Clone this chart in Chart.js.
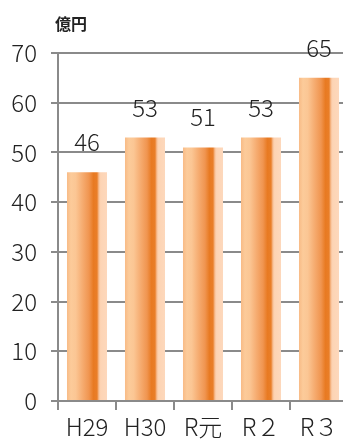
<!DOCTYPE html>
<html>
<head>
<meta charset="utf-8">
<script src="https://cdn.jsdelivr.net/npm/chart.js@4"></script>
<style>
  html, body { margin: 0; padding: 0; background: #fff; overflow: hidden; }
  #wrap { width: 350px; height: 444px; position: relative; }
</style>
</head>
<body>
<div id="wrap"><canvas id="c" width="350" height="444"></canvas></div>
<script>
// 年度別の金額（億円）
const categories = ['H29', 'H30', 'R元', 'R２', 'R３'];
const values = [46, 53, 51, 53, 65];
const yTicks = [0, 10, 20, 30, 40, 50, 60, 70];
const unitLabel = '億円';

const FONT = '"Noto Sans CJK JP", sans-serif';
const GRID = '#8a8a8a';
const TEXT = '#222';
const BAR_PCT = 0.69;

// Horizontal shading across each bar, computed from its scale position
function barGradient(context) {
  const chart = context.chart;
  const xs = chart.scales.x;
  if (!xs || !chart.chartArea) return '#f0a060';
  const center = xs.getPixelForValue(context.dataIndex);
  const half = (xs.width / categories.length) * BAR_PCT / 2;
  const g = chart.ctx.createLinearGradient(center - half, 0, center + half, 0);
  g.addColorStop(0.00, '#f8bb86');
  g.addColorStop(0.10, '#fccb9a');
  g.addColorStop(0.22, '#fbc694');
  g.addColorStop(0.38, '#f6ad72');
  g.addColorStop(0.55, '#f09550');
  g.addColorStop(0.66, '#e87a22');
  g.addColorStop(0.75, '#e97e28');
  g.addColorStop(0.80, '#f8c29a');
  g.addColorStop(0.84, '#fdd4b4');
  g.addColorStop(1.00, '#fdd8bc');
  return g;
}

// Values written above the bars, plus the unit caption
const textPlugin = {
  id: 'texts',
  afterDatasetsDraw(chart) {
    const ctx = chart.ctx;
    const meta = chart.getDatasetMeta(0);
    ctx.save();
    ctx.fillStyle = TEXT;
    ctx.font = '300 24px ' + FONT;
    ctx.textAlign = 'center';
    ctx.textBaseline = 'alphabetic';
    meta.data.forEach((bar, i) => {
      ctx.fillText(String(values[i]), bar.x, bar.y - 21);
    });
    ctx.font = 'bold 16px ' + FONT;
    ctx.textAlign = 'left';
    ctx.fillText(unitLabel, 55, 30);
    ctx.restore();
  }
};

new Chart(document.getElementById('c'), {
  type: 'bar',
  data: {
    labels: categories,
    datasets: [{
      data: values,
      backgroundColor: barGradient,
      borderWidth: 0,
      categoryPercentage: 1,
      barPercentage: BAR_PCT
    }]
  },
  options: {
    responsive: false,
    animation: false,
    layout: { padding: { left: 0, right: 2, top: 53, bottom: 0 } },
    plugins: { legend: { display: false }, tooltip: { enabled: false } },
    scales: {
      x: {
        offset: true,
        grid: {
          display: true,
          offset: true,
          drawOnChartArea: false,
          drawTicks: true,
          tickLength: 9,
          color: GRID,
          lineWidth: 2
        },
        border: { display: false },
        ticks: {
          color: TEXT,
          font: { family: FONT, size: 24, weight: '300' },
          padding: 2,
          maxRotation: 0
        },
        afterFit(scale) { scale.height = 43; }
      },
      y: {
        min: 0,
        max: 70,
        afterBuildTicks(scale) { scale.ticks = yTicks.map(v => ({ value: v })); },
        grid: {
          color: GRID,
          lineWidth: 2,
          tickLength: 7
        },
        border: { display: true, color: GRID, width: 2 },
        ticks: {
          color: TEXT,
          font: { family: FONT, size: 24, weight: '300' },
          padding: 14
        },
        afterFit(scale) { scale.width = 58; }
      }
    }
  },
  plugins: [textPlugin]
});
</script>
</body>
</html>
